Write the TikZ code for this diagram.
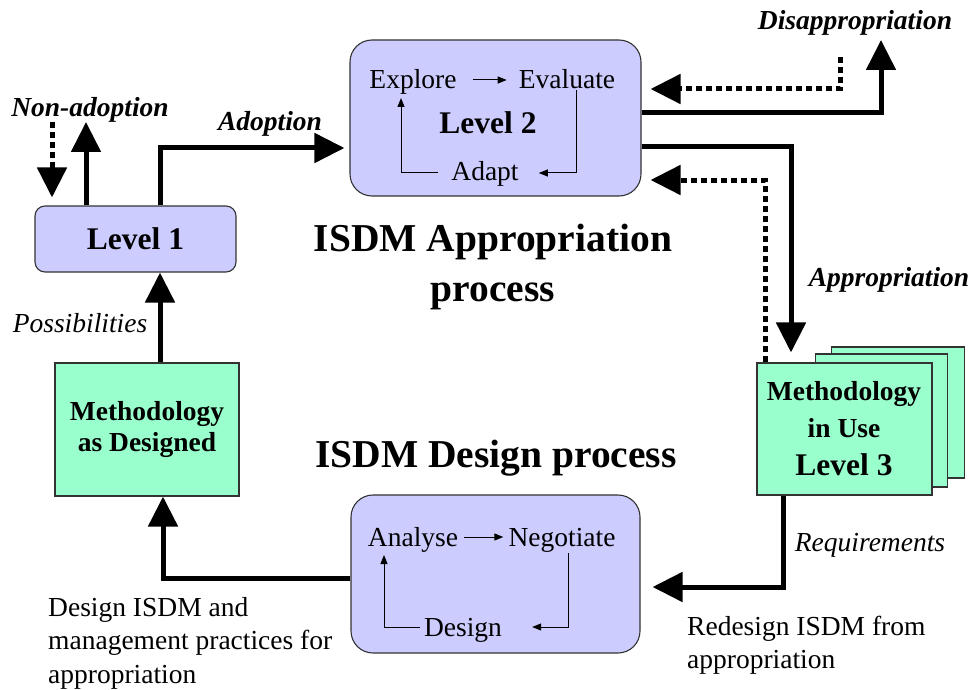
\documentclass[tikz,border=0pt]{standalone}
\usepackage{fontspec}
\setmainfont{Liberation Serif}
\usetikzlibrary{arrows.meta,calc}
\definecolor{lav}{HTML}{CCCCFF}
\definecolor{mint}{HTML}{99FFCC}

\begin{document}
\begin{tikzpicture}[x=1pt,y=-1pt,
  box/.style={draw=black!80, line width=1.1pt, inner sep=0pt},
  lavbox/.style={box, fill=lav, rounded corners=22pt},
  mintbox/.style={box, fill=mint},
  flow/.style={line width=5pt, -{Triangle[length=30pt,width=29pt]}},
  dotflow/.style={flow, dash pattern=on 6pt off 4pt},
  loopline/.style={line width=1pt, -{Triangle[length=9pt,width=7pt]}},
  txt/.style={inner sep=0pt, anchor=base, font=\fontsize{27.5}{31}\selectfont},
  boldtxt/.style={inner sep=0pt, font=\fontsize{27.5}{33}\selectfont\bfseries, align=center},
  leveltxt/.style={inner sep=0pt, font=\fontsize{31.5}{34}\selectfont\bfseries},
  boldit/.style={inner sep=0pt, font=\fontsize{27.5}{31}\selectfont\bfseries\itshape},
  itlab/.style={inner sep=0pt, font=\fontsize{27.5}{31}\selectfont\itshape},
  note/.style={inner sep=0pt, font=\fontsize{27.5}{33.5}\selectfont, align=left, anchor=west},
  title/.style={inner sep=0pt, font=\fontsize{39.5}{50}\selectfont\bfseries, align=center}
]
\useasboundingbox (0,0) rectangle (972,690);

% ---- boxes ----
\node[lavbox, minimum width=291pt, minimum height=156pt] (lvl2) at (495.5,118) {};
\node[lavbox, rounded corners=10pt, minimum width=201pt, minimum height=66pt,
      font=\fontsize{31.5}{34}\selectfont\bfseries] (lvl1) at (135.5,239) {Level 1};
\node[lavbox, minimum width=289pt, minimum height=158pt] (design) at (495.5,574) {};
\node[mintbox, minimum width=184pt, minimum height=133pt,
      font=\fontsize{27.5}{31}\selectfont\bfseries, align=center] (designed) at (147,429.5)
      {Methodology\\as Designed};

% stacked methodology-in-use sheets
\node[mintbox, minimum width=133pt, minimum height=131pt] (inuse3) at (898.3,412.5) {};
\node[mintbox, minimum width=132pt, minimum height=133pt] (inuse2) at (881.8,420.5) {};
\node[mintbox, minimum width=175pt, minimum height=132pt] (inuse) at (844.5,429) {};
\node[boldtxt] (inuseA) at (844,394) {Methodology};
\node[boldtxt] (inuseB) at (844,428) {in Use};
\node[leveltxt] (inuseC) at (844,465) {Level 3};

% ---- level 2 cycle ----
\node[txt] (explore) at (413,89) {Explore};
\node[txt] (evaluate) at (567,89) {Evaluate};
\node[leveltxt, anchor=base] (l2label) at (488,134) {Level 2};
\node[txt] (adapt) at (485,181) {Adapt};
\draw[loopline] ([xshift=16pt,yshift=9pt]explore.base east) -- ([xshift=-12pt,yshift=9pt]evaluate.base west);
\draw[loopline] ([xshift=9pt,yshift=-1pt]evaluate.base) |- ([xshift=20pt,yshift=8pt]adapt.base east);
\draw[loopline] ([xshift=-13pt,yshift=8pt]adapt.base west) -| ([xshift=-12pt,yshift=-9pt]explore.base);

% ---- design cycle ----
\node[txt] (analyse) at (413,546) {Analyse};
\node[txt] (negotiate) at (562,546) {Negotiate};
\node[txt] (designstep) at (463,636) {Design};
\draw[loopline] ([xshift=6pt,yshift=9pt]analyse.base east) -- ([xshift=-5pt,yshift=9pt]negotiate.base west);
\draw[loopline] ([xshift=6pt,yshift=-7pt]negotiate.base) |- ([xshift=30pt,yshift=9pt]designstep.base east);
\draw[loopline] ([xshift=-4pt,yshift=9pt]designstep.base west) -| ([xshift=-29pt,yshift=-9pt]analyse.base);

% ---- titles ----
\node[title] (aptitle) at (493,267) {ISDM Appropriation\\process};
\node[title] (dtitle) at (496,458) {ISDM Design process};

% ---- connectors ----
\coordinate (nadUp) at (86,122);
\coordinate (nadTop) at (52,122);
\coordinate (disTip) at (881,40);
\coordinate (disStart) at (840,57);

\draw[flow] ([xshift=24.5pt]lvl1.north) |- ([xshift=-5pt,yshift=-30pt]lvl2.west);
\draw[flow] (lvl1.north -| nadUp) -- (nadUp);
\draw[dotflow] (nadTop) -- ([yshift=8pt]lvl1.north -| nadTop);

\draw[flow] ([yshift=5pt]lvl2.east) -| (disTip);
\draw[dotflow] (disStart) |- ([xshift=9pt,yshift=29pt]lvl2.east);

\draw[flow] ([yshift=-29pt]lvl2.east) -| ([xshift=-53.5pt,yshift=10pt]inuse.north);
\draw[dotflow] ([xshift=-79.5pt]inuse.north) |- ([xshift=9pt,yshift=-62pt]lvl2.east);

\draw[flow] ([xshift=-61.5pt]inuse.south) |- ([xshift=12pt,yshift=-13pt]design.east);
\draw[flow] ([yshift=-4pt]design.west) -| ([xshift=16pt]designed.south);
\draw[flow] ([xshift=13pt]designed.north) -- ([xshift=24.5pt]lvl1.south);

% ---- labels ----
\node[boldit] (labNad) at (90,110) {Non-adoption};
\node[boldit] (labAdopt) at (270,124) {Adoption};
\node[boldit] (labDis) at (855,23) {Disappropriation};
\node[boldit] (labApp) at (889,280) {Appropriation};
\node[itlab] (labPoss) at (80,323) {Possibilities};
\node[itlab] (labReq) at (870,545) {Requirements};
\node[note] (noteDesign) at (48,643) {Design ISDM and\\management practices for\\appropriation};
\node[note] (noteRedesign) at (687,645) {Redesign ISDM from\\appropriation};
\end{tikzpicture}
\end{document}
